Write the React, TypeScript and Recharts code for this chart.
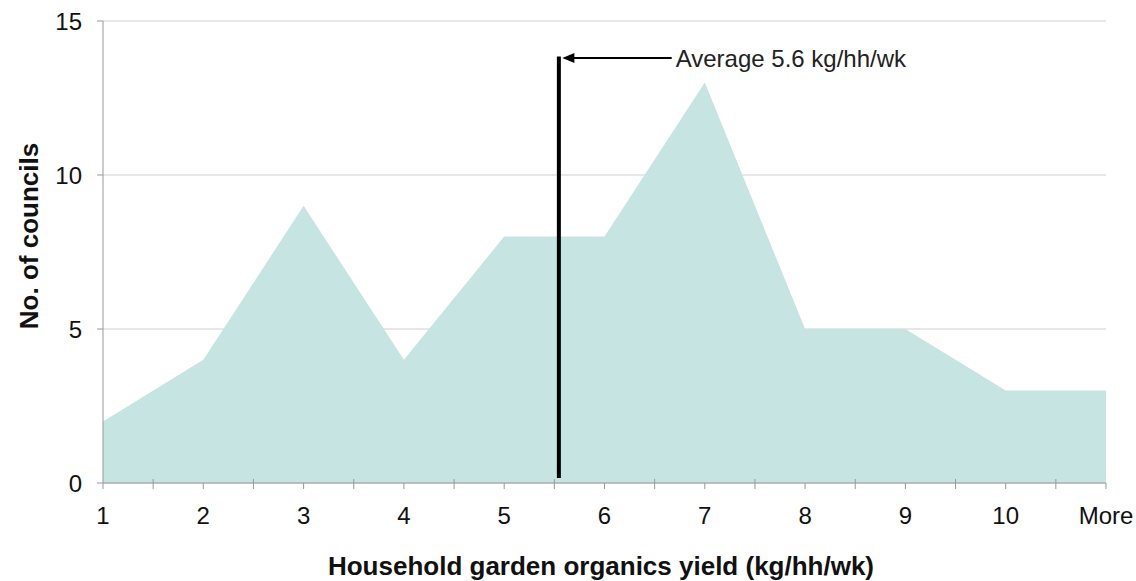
import { AreaChart, Area, XAxis, YAxis, CartesianGrid, ReferenceLine } from "recharts";

const categories = ["1", "2", "3", "4", "5", "6", "7", "8", "9", "10", "More"];
const councils = [2, 4, 9, 4, 8, 8, 13, 5, 5, 3, 3];
const yTicks = [0, 5, 10, 15];
const averageX = 5.545;
const averageLabel = "Average 5.6 kg/hh/wk";

const data = categories.map((name, i) => ({ pos: i + 1, name, count: councils[i] }));
const xTicks = categories.flatMap((_, i) => (i < categories.length - 1 ? [i + 1, i + 1.5] : [i + 1]));

const font = "'Liberation Sans', Arial, sans-serif";
const TICK_SIZE = 6;
const X_TICK_MARGIN = 18;

// integer ticks hang below the axis, the in-between ones cross it
const XTick = (p: any) => {
  const { x, y, payload } = p;
  const v = payload.value as number;
  const axisY = y - TICK_SIZE - X_TICK_MARGIN;
  if (!Number.isInteger(v)) {
    return <line x1={x} x2={x} y1={axisY - 4} y2={axisY} stroke="#999" />;
  }
  return (
    <text x={x} y={y} dy="0.71em" textAnchor="middle" fontSize={24} fontFamily={font} fill="#111">
      {categories[v - 1]}
    </text>
  );
};

const ArrowShape = (p: any) => {
  const { x1, y1, x2, y2 } = p;
  const left = Math.min(x1, x2);
  const right = Math.max(x1, x2);
  return (
    <g>
      <line x1={left + 8} y1={y1} x2={right} y2={y2} stroke="#000" strokeWidth={2} />
      <polygon points={`${left},${y1} ${left + 12},${y1 - 5} ${left + 12},${y1 + 5}`} fill="#000" />
      <text x={right + 4} y={y1 + 9} fontSize={24} fontFamily={font} fill="#222">
        {averageLabel}
      </text>
    </g>
  );
};

export default function App() {
  return (
    <div style={{ position: "absolute", left: 0, top: 0, background: "#fff" }}>
      <AreaChart
        width={1136}
        height={581}
        data={data}
        margin={{ top: 21, right: 30, left: 0, bottom: 0 }}
      >
        <CartesianGrid vertical={false} stroke="#cfcfcf" />
        <XAxis
          dataKey="pos"
          type="number"
          domain={[1, 11]}
          ticks={xTicks}
          interval={0}
          height={98}
          tick={XTick}
          tickSize={TICK_SIZE}
          tickMargin={X_TICK_MARGIN}
          stroke="#999"
          label={{
            content: (props: any) => {
              const vb = props.viewBox;
              return (
                <text
                  x={601}
                  y={vb.y + 92}
                  textAnchor="middle"
                  fontSize={26}
                  fontWeight="bold"
                  fontFamily={font}
                  fill="#111"
                >
                  Household garden organics yield (kg/hh/wk)
                </text>
              );
            },
          }}
        />
        <YAxis
          type="number"
          domain={[0, 15]}
          ticks={yTicks}
          width={103}
          tick={{ fill: "#111", fontSize: 24, fontFamily: font }}
          tickSize={TICK_SIZE}
          tickMargin={15}
          stroke="#999"
          label={{
            content: () => (
              <text
                x={38}
                y={236}
                transform="rotate(-90, 38, 236)"
                textAnchor="middle"
                fontSize={26}
                fontWeight="bold"
                fontFamily={font}
                fill="#111"
              >
                No. of councils
              </text>
            ),
          }}
        />
        <Area
          type="linear"
          dataKey="count"
          stroke="none"
          fill="#c6e4e1"
          fillOpacity={1}
          isAnimationActive={false}
        />
        <ReferenceLine
          segment={[
            { x: averageX, y: 0.16 },
            { x: averageX, y: 13.85 },
          ]}
          stroke="#000"
          strokeWidth={4}
        />
        <ReferenceLine
          segment={[
            { x: 5.58, y: 13.8 },
            { x: 6.67, y: 13.8 },
          ]}
          shape={ArrowShape}
        />
      </AreaChart>
    </div>
  );
}
